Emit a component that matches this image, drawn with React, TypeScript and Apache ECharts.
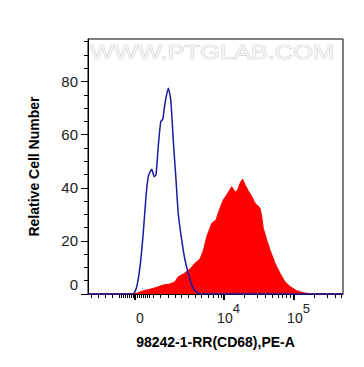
import React, { useEffect, useRef } from "react";
import * as echarts from "echarts";

// Display channel (0..1020) along the biexponential x axis, value = relative cell number
const controlX = [0, 120, 180, 195, 208, 221, 232, 241, 255, 265, 272, 281, 291, 299, 308, 321, 331, 341, 352, 361, 375, 388, 405, 421, 441, 461, 1020];
const controlY = [0, 0, 0, 2.8, 10.3, 23, 36.7, 44.2, 47, 44.2, 44.8, 55.5, 64.9, 65.8, 71.8, 77.5, 73.1, 58, 43, 30.4, 20.3, 12.8, 6.5, 2.1, 0.3, 0, 0];

const sampleX = [0, 180, 195, 221, 248, 275, 301, 328, 348, 361, 381, 408, 428, 448, 461, 475, 495, 512, 528, 541, 552, 565, 575, 581, 592, 601, 611, 619, 628, 641, 655, 668, 677, 688, 695, 701, 715, 728, 748, 768, 788, 808, 835, 861, 895, 1020];
const sampleY = [0, 0, 0.3, 1.2, 1.8, 2.5, 3.4, 3.8, 4.6, 6.5, 7.5, 9.4, 11.6, 13.2, 16.2, 21.6, 26.6, 27.9, 32.3, 35.4, 36.9, 38.9, 40.4, 39.4, 38.2, 39.8, 42.3, 43.2, 41.1, 38.9, 36.7, 34.2, 33.5, 32.3, 29.1, 24.8, 20.3, 16.6, 11.6, 7.8, 4.6, 2.8, 1.2, 0.5, 0, 0];

// Tick positions in display channels
const xMajorTicks = [188, 542, 822];
const xMajorLabels = ["0", "10^4", "10^5"];
const xMinorTicks = [12, 40, 67, 96, 124, 132, 140, 148, 156, 164, 172, 180, 196, 204, 212, 220, 228, 236, 244, 259, 288, 320, 347, 372, 400, 427, 452, 480, 500, 520, 532, 626, 676, 710, 738, 760, 778, 794, 809, 906, 956, 990, 1012];
const yMajorTicks = [0, 20, 40, 60, 80];
const yMinorTicks = [5, 10, 15, 25, 30, 35, 45, 50, 55, 65, 70, 75, 85, 90, 95];

const X_MAX = 1020;
const Y_MAX = 96;

const FONT = '"Liberation Sans", Arial, sans-serif';

export default function App() {
  const ref = useRef<HTMLDivElement>(null);
  useEffect(() => {
    if (!ref.current) return;
    const chart = echarts.init(ref.current, null, { renderer: "svg" });
    const grid = { left: 88, top: 39, right: 21, bottom: 73 };
    chart.setOption({
      animation: false,
      backgroundColor: "#fff",
      grid: { ...grid, show: true, borderColor: "#000", borderWidth: 1, backgroundColor: "transparent" },
      graphic: [
        {
          type: "text",
          x: 90,
          y: 42,
          scaleX: 1.27,
          silent: true,
          style: {
            text: "WWW.PTGLAB.COM",
            font: '20px "Liberation Sans", Arial, sans-serif',
            fill: "#f4f4f4",
            stroke: "#c4c4c4",
            lineWidth: 0.7,
          },
        },
      ],
      xAxis: [
        {
          type: "value",
          min: 0,
          max: X_MAX,
          position: "bottom",
          splitLine: { show: false },
          axisLine: { show: true, lineStyle: { color: "#000", width: 1 } },
          axisTick: {
            show: true,
            customValues: xMajorTicks,
            length: 6,
            lineStyle: { color: "#000", width: 2 },
          },
          axisLabel: {
            show: true,
            customValues: xMajorTicks,
            margin: 6,
            formatter: (v: number) => {
              const i = xMajorTicks.indexOf(v);
              const lab = i >= 0 ? xMajorLabels[i] : "";
              if (lab.includes("^")) {
                const [b, e] = lab.split("^");
                return `{b|${b}}{s|${e}}`;
              }
              return `{z|${lab}}`;
            },
            rich: {
              b: { fontSize: 14, fontFamily: FONT, color: "#222", padding: [11, 0, 0, 10] },
              s: { fontSize: 13, fontFamily: FONT, color: "#222", padding: [0, 0, 8, 0] },
              z: { fontSize: 14, fontFamily: FONT, color: "#222", padding: [11, 0, 0, 10] },
            },
          },
          name: "98242-1-RR(CD68),PE-A",
          nameLocation: "middle",
          nameGap: 41,
          nameTextStyle: { fontSize: 14, fontWeight: "bold", color: "#000", fontFamily: FONT },
        },
        {
          type: "value",
          min: 0,
          max: X_MAX,
          position: "bottom",
          splitLine: { show: false },
          axisLine: { show: false },
          axisTick: {
            show: true,
            customValues: xMinorTicks,
            length: 4,
            lineStyle: { color: "#000", width: 1 },
          },
          axisLabel: { show: false },
        },
      ],
      yAxis: [
        {
          type: "value",
          min: 0,
          max: Y_MAX,
          position: "left",
          splitLine: { show: false },
          axisLine: { show: true, lineStyle: { color: "#000", width: 1 } },
          axisTick: {
            show: true,
            customValues: yMajorTicks,
            length: 7,
            lineStyle: { color: "#000", width: 1 },
          },
          axisLabel: {
            show: true,
            customValues: yMajorTicks,
            margin: 10,
            formatter: (v: number) => (v === 0 ? `{z|0}` : `{n|${v}}`),
            rich: {
              n: { fontSize: 15, fontFamily: FONT, color: "#222" },
              z: { fontSize: 15, fontFamily: FONT, color: "#222", padding: [0, 0, 20, 0] },
            },
          },
          name: "Relative Cell Number",
          nameLocation: "middle",
          nameGap: 47,
          nameTextStyle: { fontSize: 14, fontWeight: "bold", color: "#000", fontFamily: FONT },
        },
        {
          type: "value",
          min: 0,
          max: Y_MAX,
          position: "left",
          splitLine: { show: false },
          axisLine: { show: false },
          axisTick: {
            show: true,
            customValues: yMinorTicks,
            length: 4,
            lineStyle: { color: "#000", width: 1 },
          },
          axisLabel: { show: false },
        },
      ],
      series: [
        {
          type: "line",
          name: "CD68",
          data: sampleX.map((x, i) => [x, sampleY[i]]),
          xAxisIndex: 0,
          yAxisIndex: 0,
          showSymbol: false,
          symbol: "none",
          smooth: false,
          lineStyle: { color: "#ff0000", width: 1 },
          areaStyle: { color: "#ff0000", opacity: 1 },
          z: 2,
        },
        {
          type: "line",
          name: "Control",
          data: controlX.map((x, i) => [x, controlY[i]]),
          xAxisIndex: 0,
          yAxisIndex: 0,
          showSymbol: false,
          symbol: "none",
          smooth: 0.2,
          lineStyle: { color: "#1a1aa0", width: 1.5 },
          z: 3,
        },
      ],
    });
    return () => chart.dispose();
  }, []);
  return (
    <div
      ref={ref}
      style={{ position: "fixed", left: 0, top: 0, width: 364, height: 367 }}
    />
  );
}
